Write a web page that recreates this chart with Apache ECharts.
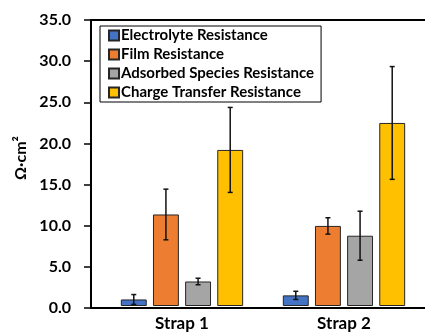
<!DOCTYPE html>
<html>
<head>
<meta charset="utf-8">
<script src="https://cdn.jsdelivr.net/npm/echarts@6/dist/echarts.min.js"></script>
<style>
  html, body { margin: 0; padding: 0; background: #fff; }
  #chart { width: 425px; height: 332px; }
</style>
</head>
<body>
<div id="chart"></div>
<script>
// Impedance fit components per strap (values and standard deviations, Ω·cm²)
const categories = ['Strap 1', 'Strap 2'];
const seriesNames = ['Electrolyte Resistance', 'Film Resistance', 'Adsorbed Species Resistance', 'Charge Transfer Resistance'];
const electrolyte = [0.8, 1.3];
const electrolyteErr = [0.6, 0.5];
const film = [11.2, 9.8];
const filmErr = [3.1, 1.0];
const adsorbed = [3.0, 8.6];
const adsorbedErr = [0.4, 3.0];
const chargeTransfer = [19.1, 22.4];
const chargeTransferErr = [5.2, 6.9];
const yTicks = [0, 5, 10, 15, 20, 25, 30, 35];

const colors = ['#4472C4', '#ED7D31', '#A5A5A5', '#FFC000'];
const values = [electrolyte, film, adsorbed, chargeTransfer];
const errors = [electrolyteErr, filmErr, adsorbedErr, chargeTransferErr];

const BAR_FRAC = 0.16;   // bar width as fraction of category band
const GAP_FRAC = 0.24;   // gap between bars as fraction of bar width
const FONT = 'Lato, "Open Sans", sans-serif';

const barSeries = seriesNames.map((name, i) => ({
  name: name,
  type: 'bar',
  xAxisIndex: 2,
  yAxisIndex: 1,
  barWidth: (BAR_FRAC * 100) + '%',
  barGap: (GAP_FRAC * 100) + '%',
  itemStyle: { color: colors[i], borderColor: '#262626', borderWidth: 1 },
  data: values[i],
  z: 2
}));

const errorSeries = seriesNames.map((name, i) => ({
  type: 'custom',
  xAxisIndex: 2,
  yAxisIndex: 1,
  z: 5,
  silent: true,
  encode: { x: 0, y: [1, 2] },
  data: values[i].map((v, k) => [k, v - errors[i][k], v + errors[i][k]]),
  renderItem: function (params, api) {
    const band = api.size([1, 0])[0];
    const barW = band * BAR_FRAC;
    const off = (i - 1.5) * barW * (1 + GAP_FRAC);
    const lo = api.coord([api.value(0), api.value(1)]);
    const hi = api.coord([api.value(0), api.value(2)]);
    const x = lo[0] + off;
    const cap = 2.5;
    const style = { stroke: '#111', lineWidth: 1.5, fill: null };
    return {
      type: 'group',
      children: [
        { type: 'line', shape: { x1: x, y1: lo[1], x2: x, y2: hi[1] }, style: style },
        { type: 'line', shape: { x1: x - cap, y1: lo[1], x2: x + cap, y2: lo[1] }, style: style },
        { type: 'line', shape: { x1: x - cap, y1: hi[1], x2: x + cap, y2: hi[1] }, style: style }
      ]
    };
  }
}));

const chart = echarts.init(document.getElementById('chart'), null, { renderer: 'canvas' });
chart.setOption({
  animation: false,
  backgroundColor: '#fff',
  textStyle: { fontFamily: FONT },
  grid: [
    // frame grid: y axis, bottom and top lines
    { left: 91, right: 0, top: 20, bottom: 24 },
    // bar grid
    { left: 101, right: 0, top: 20, bottom: 24 }
  ],
  legend: {
    orient: 'vertical',
    left: 100,
    top: 26,
    data: seriesNames,
    icon: 'rect',
    itemWidth: 10,
    itemHeight: 10,
    itemGap: 4,
    padding: [2, 7, 2, 8],
    borderColor: '#000',
    borderWidth: 1,
    backgroundColor: '#fff',
    textStyle: { fontFamily: FONT, fontWeight: 'bold', fontSize: 15, color: '#000', lineHeight: 15, padding: [0, 0, 0, -3] }
  },
  xAxis: [
    { type: 'value', gridIndex: 0, min: 0, max: 1, position: 'bottom',
      axisLine: { show: true, lineStyle: { color: '#000', width: 2 } },
      axisTick: { show: false }, axisLabel: { show: false }, splitLine: { show: false } },
    { type: 'value', gridIndex: 0, min: 0, max: 1, position: 'top',
      axisLine: { show: true, lineStyle: { color: '#000', width: 2 } },
      axisTick: { show: false }, axisLabel: { show: false }, splitLine: { show: false } },
    { type: 'category', gridIndex: 1, data: categories,
      axisLine: { show: false }, axisTick: { show: false },
      axisLabel: { fontFamily: FONT, fontWeight: 'bold', fontSize: 17, color: '#000', margin: 9 } }
  ],
  yAxis: [
    { type: 'value', gridIndex: 0, min: yTicks[0], max: yTicks[yTicks.length - 1], interval: 5,
      name: 'Ω·cm²', nameLocation: 'middle', nameGap: 62,
      nameTextStyle: { fontFamily: FONT, fontWeight: 'bold', fontSize: 16, color: '#000', padding: [0, 0, 0, 12] },
      axisLine: { show: true, lineStyle: { color: '#000', width: 2 } },
      axisTick: { show: true, length: 7, lineStyle: { color: '#000', width: 1.5 } },
      axisLabel: { fontFamily: FONT, fontWeight: 'bold', fontSize: 16, color: '#000', margin: 20,
                   formatter: v => v.toFixed(1) },
      splitLine: { show: false } },
    { type: 'value', gridIndex: 1, min: yTicks[0], max: yTicks[yTicks.length - 1], show: false,
      splitLine: { show: false } }
  ],
  series: barSeries.concat(errorSeries)
});
</script>
</body>
</html>
